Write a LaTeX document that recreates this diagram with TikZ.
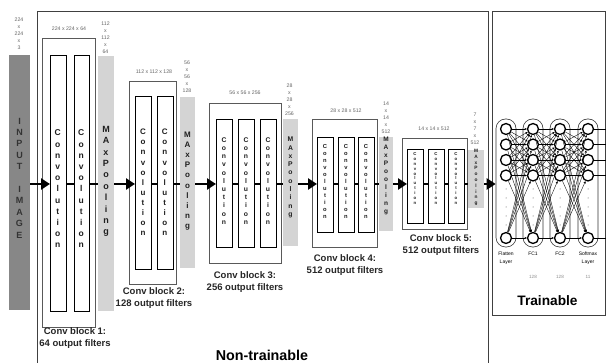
\documentclass[tikz,border=0pt]{standalone}
\usepackage{fontspec}
\setmainfont{Liberation Sans}
\usetikzlibrary{arrows.meta}
\begin{document}
\begin{tikzpicture}[x=1pt,y=-1pt,
  frame/.style={draw=black!75,line width=0.6pt},
  blockbox/.style={draw=black!65,line width=0.6pt,anchor=north west,inner sep=0pt},
  conv/.style={draw=black,line width=1.3pt,fill=white,anchor=north west,inner sep=0pt},
  pool/.style={fill=black!17,anchor=north west,inner sep=0pt},
  inbar/.style={fill=black!47,anchor=north west,inner sep=0pt},
  dimtxt/.style={font=\fontsize{5.2}{7}\selectfont,text=black!60,align=center,inner sep=0pt},
  vtxt/.style={align=center,inner sep=0pt,text=black!88},
  blabel/.style={font=\fontsize{9.5}{12}\selectfont\bfseries,align=center,inner sep=0pt,text=black!85},
  bigarrow/.style={line width=2.6pt,-{Triangle[length=9pt,width=11pt]}},
  link/.style={line width=2.6pt},
  pill/.style={draw=black!80,line width=0.6pt,rounded corners=9.5pt,minimum width=20pt,minimum height=128pt,inner sep=0pt},
  neuron/.style={circle,draw=black,line width=1.3pt,fill=white,minimum size=11pt,inner sep=0pt},
  dense/.style={line width=0.35pt,-{Stealth[length=2.4pt,width=2.2pt]}},
  dlabel/.style={font=\fontsize{5}{8}\selectfont,align=center,inner sep=0pt},
  nlabel/.style={font=\fontsize{4.6}{6}\selectfont,text=black!45,inner sep=0pt}
]
\clip (0,0) rectangle (606,363);
\fill[white] (0,0) rectangle (606,363);
\coordinate (axis) at (0,184);

% outer frames
\node[frame,anchor=north west,minimum width=451pt,minimum height=380pt,inner sep=0pt] (nontrain) at (37,11) {};
\node[frame,anchor=north west,minimum width=113pt,minimum height=304pt,inner sep=0pt] (train) at (492,11) {};
\node[font=\fontsize{14.3}{16}\selectfont\bfseries] (ntlabel) at (262,355) {Non-trainable};
\node[font=\fontsize{13.7}{16}\selectfont\bfseries] (tlabel) at (547.5,301) {Trainable};

% input
\node[inbar,minimum width=21pt,minimum height=255pt] (in) at (9,55) {};
\node[vtxt,font=\fontsize{9}{11.4}\selectfont\bfseries,text=black!80] (intxt) at (19.5,178)
  {I\\N\\P\\U\\T\\\mbox{}\\I\\M\\A\\G\\E};
\node[dimtxt] (d0) at (19,34) {224\\x\\224\\x\\3};

% block 1
\node[blockbox,minimum width=53pt,minimum height=289pt] (b1) at (42,38) {};
\node[conv,minimum width=15.5pt,minimum height=256pt] (c11) at (50,55) {};
\node[conv,minimum width=15.5pt,minimum height=256pt] (c12) at (73.5,55) {};
\node[pool,minimum width=16pt,minimum height=255pt] (p1) at (98,56) {};
\node[vtxt,font=\fontsize{8.5}{11.2}\selectfont\bfseries] (t11) at (57.75,189) {C\\o\\n\\v\\o\\l\\u\\t\\i\\o\\n};
\node[vtxt,font=\fontsize{8.5}{11.2}\selectfont\bfseries] (t12) at (81.25,189) {C\\o\\n\\v\\o\\l\\u\\t\\i\\o\\n};
\node[vtxt,font=\fontsize{9}{11.4}\selectfont\bfseries] (q1) at (106,181.5) {M\\A\\x\\P\\o\\o\\l\\i\\n\\g};
\node[dimtxt] (h1) at (69,29) {224 x 224 x 64};
\node[dimtxt] (d1) at (105.5,38) {112\\x\\112\\x\\64};
\node[blabel] (l1) at (75,338) {Conv block 1:\\64 output filters};

% block 2
\node[blockbox,minimum width=47pt,minimum height=203pt] (b2) at (129,81) {};
\node[conv,minimum width=16pt,minimum height=173pt] (c21) at (135,96) {};
\node[conv,minimum width=15.5pt,minimum height=173pt] (c22) at (157,96) {};
\node[pool,minimum width=15pt,minimum height=171pt] (p2) at (180,97) {};
\node[vtxt,font=\fontsize{8}{10.1}\selectfont\bfseries] (t21) at (143,182.5) {C\\o\\n\\v\\o\\l\\u\\t\\i\\o\\n};
\node[vtxt,font=\fontsize{8}{10.1}\selectfont\bfseries] (t22) at (164.75,182.5) {C\\o\\n\\v\\o\\l\\u\\t\\i\\o\\n};
\node[vtxt,font=\fontsize{8}{10.2}\selectfont\bfseries] (q2) at (187.5,181) {M\\A\\x\\P\\o\\o\\l\\i\\n\\g};
\node[dimtxt] (h2) at (154,72) {112 x 112 x 128};
\node[dimtxt] (d2) at (187,77) {56\\x\\56\\x\\128};
\node[blabel] (l2) at (154,298) {Conv block 2:\\128 output filters};

% block 3
\node[blockbox,minimum width=72pt,minimum height=160pt] (b3) at (209,103) {};
\node[conv,minimum width=16pt,minimum height=128pt] (c31) at (216,119) {};
\node[conv,minimum width=16pt,minimum height=128pt] (c32) at (238,119) {};
\node[conv,minimum width=16pt,minimum height=128pt] (c33) at (260,119) {};
\node[pool,minimum width=15pt,minimum height=127pt] (p3) at (283,119) {};
\node[vtxt,font=\fontsize{6.8}{8.2}\selectfont\bfseries] (t31) at (224,181) {C\\o\\n\\v\\o\\l\\u\\t\\i\\o\\n};
\node[vtxt,font=\fontsize{6.8}{8.2}\selectfont\bfseries] (t32) at (246,181) {C\\o\\n\\v\\o\\l\\u\\t\\i\\o\\n};
\node[vtxt,font=\fontsize{6.8}{8.2}\selectfont\bfseries] (t33) at (268,181) {C\\o\\n\\v\\o\\l\\u\\t\\i\\o\\n};
\node[vtxt,font=\fontsize{6.8}{8.3}\selectfont\bfseries] (q3) at (290.5,177.5) {M\\A\\x\\P\\o\\o\\l\\i\\n\\g};
\node[dimtxt] (h3) at (245,93) {56 x 56 x 256};
\node[dimtxt] (d3) at (289.5,99.5) {28\\x\\28\\x\\256};
\node[blabel] (l3) at (245,282) {Conv block 3:\\256 output filters};

% block 4
\node[blockbox,minimum width=65pt,minimum height=128pt] (b4) at (312,119) {};
\node[conv,minimum width=16pt,minimum height=95pt] (c41) at (317,137) {};
\node[conv,minimum width=16pt,minimum height=95pt] (c42) at (338,137) {};
\node[conv,minimum width=16pt,minimum height=95pt] (c43) at (358,137) {};
\node[pool,minimum width=14pt,minimum height=94pt] (p4) at (379,137) {};
\node[vtxt,font=\fontsize{5.8}{7}\selectfont\bfseries] (t41) at (325,181.5) {C\\o\\n\\v\\o\\l\\u\\t\\i\\o\\n};
\node[vtxt,font=\fontsize{5.8}{7}\selectfont\bfseries] (t42) at (346,181.5) {C\\o\\n\\v\\o\\l\\u\\t\\i\\o\\n};
\node[vtxt,font=\fontsize{5.8}{7}\selectfont\bfseries] (t43) at (366,181.5) {C\\o\\n\\v\\o\\l\\u\\t\\i\\o\\n};
\node[vtxt,font=\fontsize{6.5}{8}\selectfont\bfseries] (q4) at (386,175.5) {M\\A\\x\\P\\o\\o\\l\\i\\n\\g};
\node[dimtxt] (h4) at (346,111) {28 x 28 x 512};
\node[dimtxt] (d4) at (386,117.5) {14\\x\\14\\x\\512};
\node[blabel] (l4) at (345,265) {Conv block 4:\\512 output filters};

% block 5
\node[blockbox,minimum width=65pt,minimum height=91pt] (b5) at (402,138) {};
\node[conv,minimum width=16pt,minimum height=74pt] (c51) at (407,149) {};
\node[conv,minimum width=16pt,minimum height=74pt] (c52) at (428,149) {};
\node[conv,minimum width=16pt,minimum height=74pt] (c53) at (448,149) {};
\node[pool,minimum width=16pt,minimum height=58pt] (p5) at (468,150) {};
\node[vtxt,font=\fontsize{4.3}{4.9}\selectfont\bfseries] (t51) at (415,178.5) {C\\o\\n\\v\\o\\l\\u\\t\\i\\o\\n};
\node[vtxt,font=\fontsize{4.3}{4.9}\selectfont\bfseries] (t52) at (436,178.5) {C\\o\\n\\v\\o\\l\\u\\t\\i\\o\\n};
\node[vtxt,font=\fontsize{4.3}{4.9}\selectfont\bfseries] (t53) at (456,178.5) {C\\o\\n\\v\\o\\l\\u\\t\\i\\o\\n};
\node[vtxt,font=\fontsize{4.8}{5.8}\selectfont\bfseries] (q5) at (476,177.5) {M\\A\\x\\P\\o\\o\\l\\i\\n\\g};
\node[dimtxt] (h5) at (434,129) {14 x 14 x 512};
\node[dimtxt] (d5) at (475,129) {7\\x\\7\\x\\512};
\node[blabel] (l5) at (441,245) {Conv block 5:\\512 output filters};

% dense part
\foreach \L/\xx in {1/506,2/533,3/560,4/588}{
  \node[pill] (pl\L) at (\xx,183) {};
  \foreach \i/\yy in {1/129,2/144.5,3/160,4/175.5,5/238}{
    \node[neuron] (n\L-\i) at (\xx,\yy) {};
  }
  \foreach \k/\yy in {1/189,2/198,3/207,4/216,5/225}{
    \node[circle,fill=black!70,minimum size=1pt,inner sep=0pt] (dot\L-\k) at (\xx,\yy) {};
  }
}
\foreach \L/\M in {1/2,2/3,3/4}{
  \foreach \i in {1,...,5}{
    \foreach \j in {1,...,5}{
      \draw[dense] (n\L-\i) -- (n\M-\j);
    }
  }
}
\foreach \i/\yy in {1/129,2/144.5,3/160,4/175.5,5/238}{
  \coordinate (out\i) at (612,\yy);
  \draw[line width=0.6pt] (n4-\i) -- (out\i);
}
\node[dlabel,anchor=north] (fl) at (506,252) {Flatten\\Layer};
\node[dlabel,anchor=north] (f1) at (533,252) {FC1};
\node[dlabel,anchor=north] (f2) at (560,252) {FC2};
\node[dlabel,anchor=north] (sm) at (588,252) {Softmax\\Layer};
\node[nlabel] (k1) at (533,277) {128};
\node[nlabel] (k2) at (560,277) {128};
\node[nlabel] (k3) at (588,277) {11};

% main flow
\draw[bigarrow] (in.east |- axis) -- (c11.west |- axis);
\draw[link] (c11.east |- axis) -- (c12.west |- axis);
\draw[link] (c12.east |- axis) -- (p1.west |- axis);
\draw[bigarrow] (p1.east |- axis) -- (c21.west |- axis);
\draw[link] (c21.east |- axis) -- (c22.west |- axis);
\draw[link] (c22.east |- axis) -- (p2.west |- axis);
\draw[bigarrow] (p2.east |- axis) -- (c31.west |- axis);
\draw[link] (c31.east |- axis) -- (c32.west |- axis);
\draw[link] (c32.east |- axis) -- (c33.west |- axis);
\draw[link] (c33.east |- axis) -- (p3.west |- axis);
\draw[bigarrow] (p3.east |- axis) -- (c41.west |- axis);
\draw[link] (c41.east |- axis) -- (c42.west |- axis);
\draw[link] (c42.east |- axis) -- (c43.west |- axis);
\draw[link] (c43.east |- axis) -- (p4.west |- axis);
\draw[bigarrow] (p4.east |- axis) -- (c51.west |- axis);
\draw[link] (c51.east |- axis) -- (c52.west |- axis);
\draw[link] (c52.east |- axis) -- (c53.west |- axis);
\draw[link] (c53.east |- axis) -- (p5.west |- axis);
\draw[bigarrow] (p5.east |- axis) -- (pl1.west |- axis);
\end{tikzpicture}
\end{document}
